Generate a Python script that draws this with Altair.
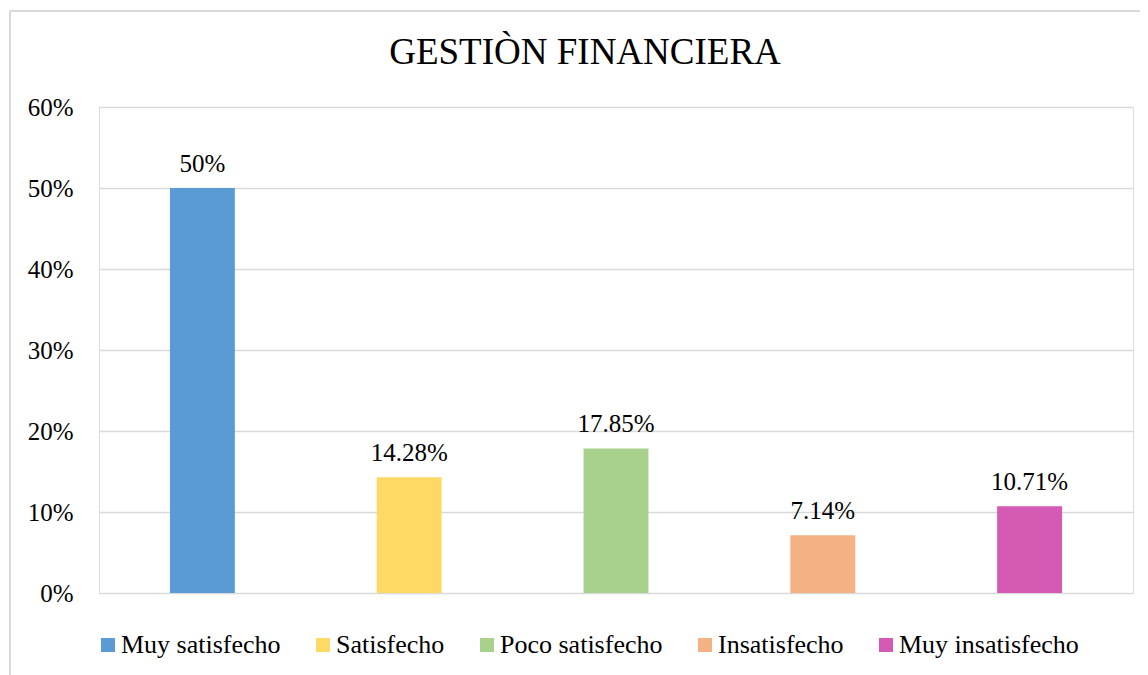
import altair as alt
import pandas as pd

categories = ["Muy satisfecho", "Satisfecho", "Poco satisfecho", "Insatisfecho", "Muy insatisfecho"]
values = [0.50, 0.1428, 0.1785, 0.0714, 0.1071]
labels = ["50%", "14.28%", "17.85%", "7.14%", "10.71%"]
colors = ["#5B9BD5", "#FFD966", "#A9D18E", "#F4B183", "#D55AB3"]
y_ticks = [0, 0.1, 0.2, 0.3, 0.4, 0.5, 0.6]

df = pd.DataFrame({"cat": categories, "val": values, "lab": labels})

FONT = "'Times New Roman', 'Liberation Serif', serif"
W, H = 1034, 486

x_scale = alt.Scale(paddingInner=0.686, paddingOuter=0.343)
y_scale = alt.Scale(domain=[0, 0.6], nice=False)

bars = alt.Chart(df).mark_bar().encode(
    x=alt.X("cat:N", sort=categories, axis=None, scale=x_scale),
    y=alt.Y("val:Q", scale=y_scale,
            axis=alt.Axis(values=y_ticks, format=".0%", title=None, domain=False,
                          ticks=False, labelFont=FONT, labelFontSize=25,
                          labelColor="#000000", labelPadding=26,
                          grid=True, gridColor="#D9D9D9", gridWidth=1.5)),
    color=alt.Color("cat:N", sort=categories,
                    scale=alt.Scale(domain=categories, range=colors),
                    legend=alt.Legend(title=None, orient="none", direction="horizontal",
                                      legendX=-4, legendY=525,
                                      symbolType="square", symbolSize=196,
                                      symbolStrokeWidth=0, symbolOpacity=1,
                                      labelFont=FONT, labelFontSize=26,
                                      labelColor="#000000", labelOffset=0,
                                      labelLimit=400,
                                      columnPadding=29, columns=5)),
)

text = alt.Chart(df).mark_text(font=FONT, fontSize=25, color="#000000",
                               baseline="alphabetic", dy=-16).encode(
    x=alt.X("cat:N", sort=categories, axis=None, scale=x_scale),
    y=alt.Y("val:Q", scale=y_scale),
    text="lab:N",
)

border_top = alt.Chart(df).mark_rule(color="#D9D9D9", strokeWidth=1.5).encode(
    x=alt.value(-89), x2=alt.value(1200), y=alt.value(-96))
border_left = alt.Chart(df).mark_rule(color="#D9D9D9", strokeWidth=1.5).encode(
    x=alt.value(-89), y=alt.value(-96), y2=alt.value(700))

chart = alt.layer(border_top, border_left, bars, text).properties(
    width=W, height=H,
    autosize=alt.AutoSizeParams(type="none"),
    padding={"left": 91, "top": 99, "right": 7, "bottom": 82},
    title=alt.TitleParams("GESTIÒN FINANCIERA", font=FONT, fontSize=37,
                          fontWeight="normal", color="#000000",
                          anchor="middle", baseline="alphabetic",
                          dx=-31, offset=-91),
).configure_view(stroke=None).configure(background="white")

chart.save("out.html", embed_options={"renderer": "svg", "actions": False})
